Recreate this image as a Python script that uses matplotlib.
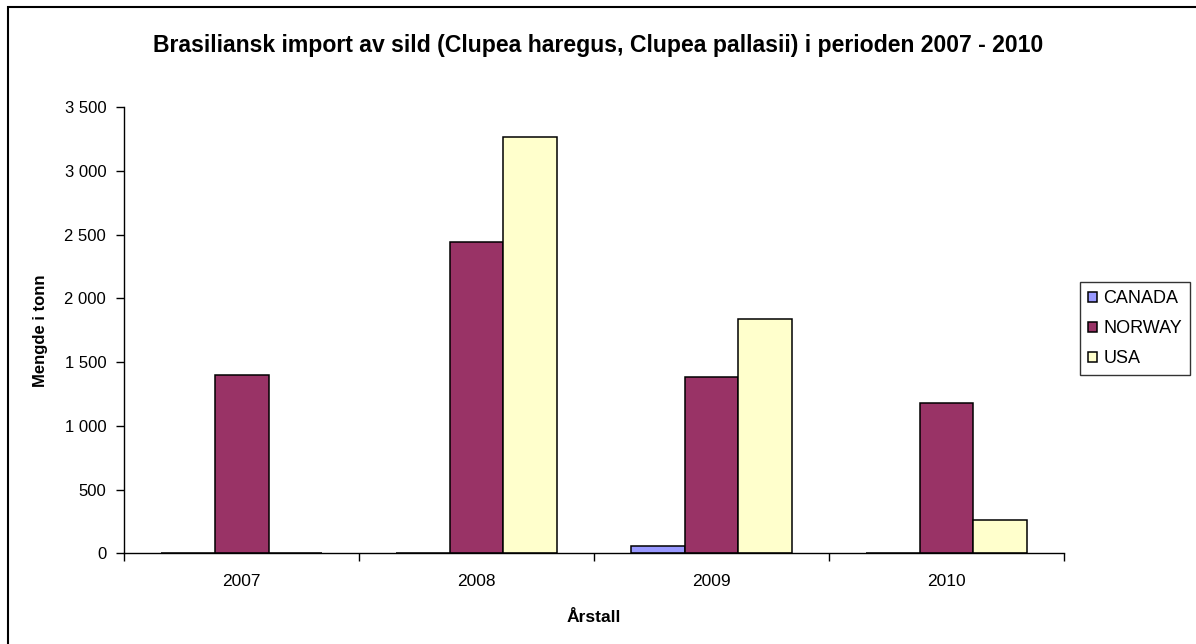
import matplotlib
matplotlib.use("Agg")
import matplotlib.pyplot as plt
from matplotlib.patches import Rectangle
import numpy as np

years = ["2007", "2008", "2009", "2010"]
canada = [0, 0, 60, 0]
norway = [1400, 2440, 1380, 1180]
usa = [0, 3265, 1840, 265]
series_names = ["CANADA", "NORWAY", "USA"]
colors = ["#9999FF", "#993366", "#FFFFCC"]
y_ticks = [0, 500, 1000, 1500, 2000, 2500, 3000, 3500]
y_tick_labels = ["0", "500", "1 000", "1 500", "2 000", "2 500", "3 000", "3 500"]

plt.rcParams['font.family'] = ['Liberation Sans', 'DejaVu Sans']

fig = plt.figure(figsize=(11.96, 6.44), dpi=100)
ax = fig.add_axes([0.1039, 0.1408, 0.7857, 0.6926])

x = np.arange(len(years))
w = 0.228
for i, (vals, name, c) in enumerate(zip([canada, norway, usa], series_names, colors)):
    ax.bar(x + (i - 1) * w, vals, width=w, color=c, edgecolor="black", linewidth=1.1, label=name)

ax.set_xlim(-0.5, 3.5)
ax.set_ylim(0, 3500)
ax.set_yticks(y_ticks)
ax.set_yticklabels(y_tick_labels, fontsize=12)
ax.set_xticks(x)
ax.set_xticklabels(years, fontsize=12.5)
ax.tick_params(axis='x', length=0, pad=15)
ax.set_xticks(np.arange(-0.5, 4.0, 1.0), minor=True)
ax.tick_params(axis='x', which='minor', length=6, width=1, direction='out')
ax.tick_params(axis='y', length=6, width=1, direction='out', pad=7)
for s in ["top", "right"]:
    ax.spines[s].set_visible(False)
for s in ["left", "bottom"]:
    ax.spines[s].set_linewidth(1.0)

ax.set_ylabel("Mengde i tonn", fontsize=12, fontweight="bold", labelpad=12)
ax.set_xlabel("Årstall", fontsize=12.5, fontweight="bold", labelpad=15)

fig.text(0.5, 0.929, "Brasiliansk import av sild (Clupea haregus, Clupea pallasii) i perioden 2007 - 2010",
         ha="center", va="center", fontsize=16.6, fontweight="bold")

leg = ax.legend(loc="upper left", bbox_to_anchor=(1080/1196, (644-282)/644), bbox_transform=fig.transFigure,
                frameon=True, fancybox=False, edgecolor="black", fontsize=13,
                handlelength=0.5, handleheight=0.5, handletextpad=0.35, borderpad=0.45, labelspacing=0.72,
                borderaxespad=0)
leg.get_frame().set_linewidth(1.0)

fig.patches.append(Rectangle((8/1196, -0.1), 1.2, (644-7)/644 + 0.1, transform=fig.transFigure,
                             fill=False, edgecolor="black", linewidth=1.5))

fig.savefig("out.png", dpi=100)
